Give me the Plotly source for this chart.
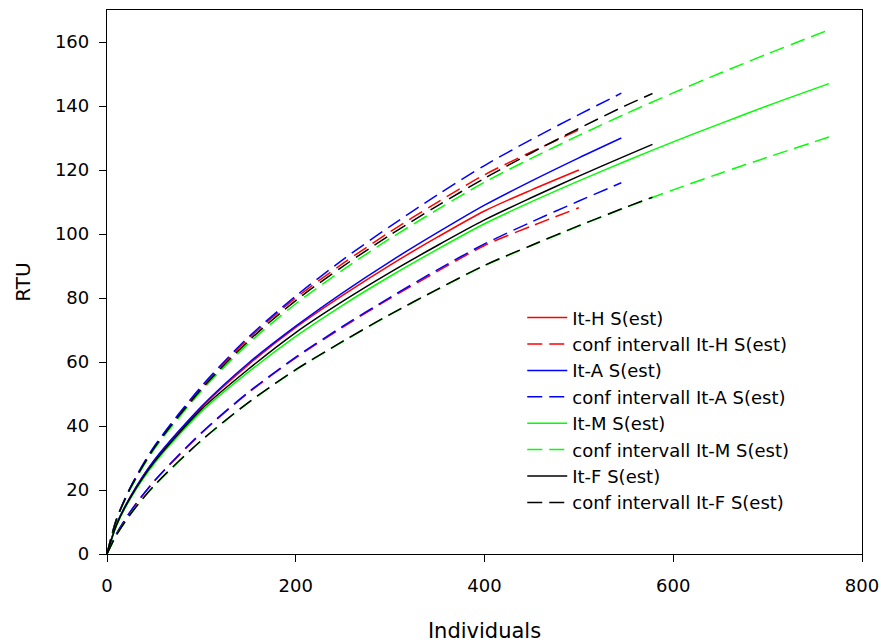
import plotly.graph_objects as go

# Individuals (x) grid per series
x_H = [0, 10, 25, 50, 100, 150, 200, 250, 300, 350, 400, 450, 500]
x_A = [0, 10, 25, 50, 100, 150, 200, 250, 300, 350, 400, 450, 500, 545]
x_M = [0, 10, 25, 50, 100, 150, 200, 250, 300, 350, 400, 450, 500, 550, 600, 650, 700, 765]
x_F = [0, 10, 25, 50, 100, 150, 200, 250, 300, 350, 400, 450, 500, 550, 578]

# It-H
H_est = [0, 9.2, 18.0, 29.2, 45.8, 59.2, 70.8, 80.9, 90.3, 99.0, 107.2, 113.8, 120.0]
H_up = [0, 10.8, 20.9, 33.4, 52.0, 67.3, 80.0, 90.8, 100.7, 109.9, 118.5, 125.7, 132.5]
H_lo = [0, 6.3, 13.3, 22.7, 37.7, 50.4, 61.3, 70.9, 79.9, 88.3, 96.4, 102.5, 108.2]

# It-A
A_est = [0, 9.2, 18.0, 29.3, 46.1, 59.7, 71.2, 81.7, 91.4, 100.4, 109.0, 116.6, 123.8, 130.0]
A_up = [0, 10.9, 21.0, 33.6, 52.4, 67.8, 80.6, 92.0, 102.4, 112.2, 121.4, 129.6, 137.3, 144.0]
A_lo = [0, 6.3, 13.4, 22.8, 37.9, 50.6, 61.5, 71.2, 80.2, 88.8, 96.9, 103.8, 110.3, 116.0]

# It-M
M_est = [0, 8.8, 17.4, 28.2, 44.5, 56.9, 68.0, 77.8, 86.8, 95.2, 103.2, 110.1, 116.6, 122.8, 128.8, 134.5, 140.1, 147.0]
M_up = [0, 10.6, 20.4, 32.7, 50.9, 65.8, 78.2, 88.8, 98.6, 107.6, 116.2, 123.7, 130.8, 137.6, 144.1, 150.3, 156.3, 163.8]
M_lo = [0, 5.9, 12.5, 21.3, 35.4, 47.3, 57.5, 66.4, 74.8, 82.6, 90.1, 96.4, 102.5, 108.3, 113.8, 119.0, 124.0, 130.3]

# It-F
F_est = [0, 9.0, 17.7, 28.7, 45.2, 57.8, 69.2, 79.0, 88.0, 96.4, 104.4, 111.4, 118.1, 124.5, 128.0]
F_up = [0, 10.7, 20.7, 33.1, 51.5, 66.6, 79.2, 89.9, 99.7, 108.8, 117.4, 125.4, 133.0, 140.2, 143.9]
F_lo = [0, 5.9, 12.5, 21.4, 35.5, 47.4, 57.6, 66.5, 74.9, 82.7, 90.2, 96.5, 102.6, 108.4, 111.5]

series = [
    ("It-H", x_H, H_est, H_up, H_lo, "#FF0000"),
    ("It-A", x_A, A_est, A_up, A_lo, "#0000FF"),
    ("It-M", x_M, M_est, M_up, M_lo, "#00FF00"),
    ("It-F", x_F, F_est, F_up, F_lo, "#000000"),
]

FONT = "DejaVu Sans"
fig = go.Figure()
for name, xs, est, up, lo, col in series:
    fig.add_trace(go.Scatter(
        x=xs, y=est, mode="lines", name=f"{name} S(est)",
        line=dict(color=col, width=1.5, shape="spline", smoothing=0.8),
    ))
    fig.add_trace(go.Scatter(
        x=xs + [None] + xs, y=up + [None] + lo, mode="lines",
        name=f"conf intervall {name} S(est)", connectgaps=False,
        line=dict(color=col, width=1.5, dash="15px,7px", shape="spline", smoothing=0.8),
    ))

axis_common = dict(
    showline=True, linecolor="black", linewidth=1.3, mirror=True,
    ticks="outside", ticklen=7, tickwidth=1.3, tickcolor="black",
    showgrid=False, zeroline=False, automargin=False,
    tickfont=dict(family=FONT, size=18, color="black"),
)

fig.update_layout(
    width=881, height=643,
    margin=dict(l=107, r=19, t=10, b=89),
    paper_bgcolor="white", plot_bgcolor="white",
    font=dict(family=FONT, size=18, color="black"),
    xaxis=dict(range=[0, 800], tickvals=[0, 200, 400, 600, 800], ticklabelstandoff=8,
               title=dict(text="Individuals", font=dict(family=FONT, size=21), standoff=32),
               **axis_common),
    yaxis=dict(range=[0, 170], tickvals=[0, 20, 40, 60, 80, 100, 120, 140, 160], ticklabelstandoff=6,
               title=dict(text="RTU", font=dict(family=FONT, size=20), standoff=18),
               **axis_common),
    showlegend=True,
    legend=dict(x=0.55, y=0.468, xanchor="left", yanchor="top",
                bgcolor="rgba(0,0,0,0)", borderwidth=0,
                font=dict(family=FONT, size=18, color="black"),
                tracegroupgap=0, itemwidth=40),
)

fig.write_html("out.html")
